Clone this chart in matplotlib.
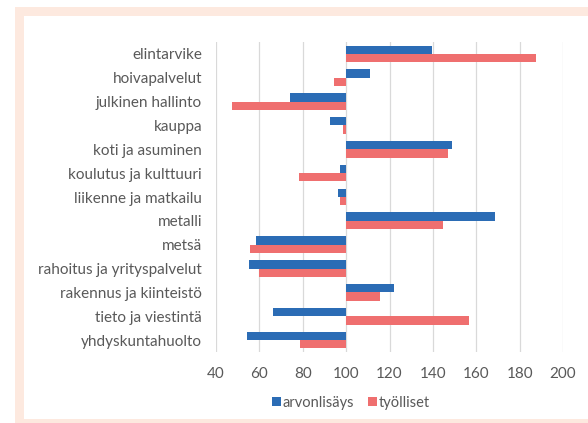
import matplotlib.pyplot as plt
import numpy as np
from matplotlib.patches import Rectangle

categories = ["elintarvike", "hoivapalvelut", "julkinen hallinto", "kauppa",
              "koti ja asuminen", "koulutus ja kulttuuri", "liikenne ja matkailu",
              "metalli", "metsä", "rahoitus ja yrityspalvelut",
              "rakennus ja kiinteistö", "tieto ja viestintä", "yhdyskuntahuolto"]
arvonlisays = [139.6, 110.9, 74.3, 92.6, 148.8, 97.1, 96.3, 168.7, 58.5, 55.1, 122.3, 66.2, 54.4]
tyolliset = [187.4, 94.6, 47.5, 98.5, 146.8, 78.5, 97.4, 144.7, 55.6, 59.6, 115.8, 156.7, 78.8]
xticks = [40, 60, 80, 100, 120, 140, 160, 180, 200]
base = 100

plt.rcParams['font.family'] = ['Lato', 'DejaVu Sans']
text_col = '#595959'

fig = plt.figure(figsize=(5.88, 4.23), dpi=100)
W, H = 588.0, 423.0
# peach frame around the chart area (drawn behind the axes)
fig.patches.append(Rectangle((15 / W, 0), 1, 1 - 7 / H, transform=fig.transFigure,
                             facecolor='#fde9df', edgecolor='none', zorder=-10))
fig.patches.append(Rectangle((24 / W, 4 / H), 1, 1 - 20 / H, transform=fig.transFigure,
                             facecolor='white', edgecolor='none', zorder=-9))

ax = fig.add_axes([216 / W, 1 - 352 / H, (563 - 216) / W, (352 - 42) / H])
ax.set_facecolor('none')

y = np.arange(len(categories))
h = 0.35
ax.barh(y - h / 2, np.array(arvonlisays) - base, left=base, height=h,
        color='#2b6cb5', label='arvonlisäys', zorder=3)
ax.barh(y + h / 2, np.array(tyolliset) - base, left=base, height=h,
        color='#ef6f6f', label='työlliset', zorder=3)

ax.set_xlim(40, 200)
ax.set_ylim(len(categories) - 0.5, -0.5)
ax.set_xticks(xticks)
ax.set_yticks(y)
ax.set_yticklabels(categories)
ax.tick_params(length=0, labelsize=11, colors=text_col)
ax.tick_params(axis='x', pad=11)
ax.tick_params(axis='y', pad=10)
for s in ax.spines.values():
    s.set_visible(False)
ax.grid(axis='x', color='#d9d9d9', linewidth=0.9, zorder=0)

fig.legend(loc='center', bbox_to_anchor=(351 / W, 1 - 403 / H), ncol=2,
           frameon=False, fontsize=10.5, labelcolor=text_col,
           handlelength=0.6, handleheight=0.6, handletextpad=0.1, columnspacing=1.0)

fig.savefig('out.png', dpi=100)
